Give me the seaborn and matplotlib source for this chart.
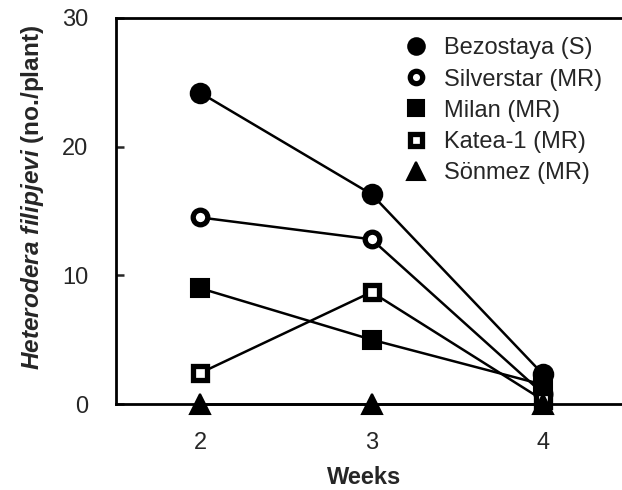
import matplotlib
matplotlib.use("Agg")
import matplotlib.pyplot as plt
import seaborn as sns
import pandas as pd

weeks = [2, 3, 4]
cultivars = ["Bezostaya (S)", "Silverstar (MR)", "Milan (MR)", "Katea-1 (MR)", "Sönmez (MR)"]
bezostaya = [24.2, 16.3, 2.3]
silverstar = [14.5, 12.8, 0.8]
milan = [9.0, 5.0, 1.5]
katea = [2.4, 8.7, 0.3]
sonmez = [0.0, 0.0, 0.0]
yticks = [0, 10, 20, 30]

series = [bezostaya, silverstar, milan, katea, sonmez]
markers = ["o", "o", "s", "s", "^"]
faces = ["black", "white", "black", "white", "black"]
msizes = [14, 10.5, 13.5, 10.5, 15]
mews = [1.5, 3.8, 1.5, 3.8, 1.5]

sns.set_style("white")
plt.rcParams["font.family"] = ["Liberation Sans", "DejaVu Sans"]
plt.rcParams["mathtext.fontset"] = "custom"
plt.rcParams["mathtext.it"] = "Liberation Sans:italic:bold"

fig = plt.figure(figsize=(6.22, 4.9), dpi=100)
ax = fig.add_axes([116/622, 1-404/490, 1-116/622, (404-18)/490])

rows = []
for name, vals in zip(cultivars, series):
    for w, v in zip(weeks, vals):
        rows.append({"Weeks": w, "val": v, "cultivar": name})
df = pd.DataFrame(rows)

for name, m, fc, ms, mew in zip(cultivars, markers, faces, msizes, mews):
    sub = df[df["cultivar"] == name]
    sns.lineplot(data=sub, x="Weeks", y="val", ax=ax, color="black", lw=1.8,
                 marker=m, markersize=ms, markerfacecolor=fc,
                 markeredgecolor="black", markeredgewidth=mew,
                 label=name, clip_on=False, zorder=3)

ax.set_xlim(1.51, 4.46)
ax.set_ylim(0, 30)
ax.set_xticks(weeks)
ax.set_yticks(yticks)
ax.tick_params(axis="x", length=0, labelsize=17, pad=20)
ax.tick_params(axis="y", direction="in", length=6, width=1.8, labelsize=17, pad=20, left=True)
for s in ["left", "bottom", "top"]:
    ax.spines[s].set_linewidth(2)
    ax.spines[s].set_color("black")
ax.spines["right"].set_visible(False)

ax.set_xlabel("Weeks", fontsize=17, fontweight="bold")
ax.xaxis.set_label_coords(0.49, -0.16)
ax.set_ylabel(r"$\mathit{Heterodera\ filipjevi}$ (no./plant)", fontsize=17.6, fontweight="bold")
ax.yaxis.set_label_coords(-0.138, 0.536)

leg = ax.legend(loc="upper left", bbox_to_anchor=(0.569, 0.95), frameon=False,
                fontsize=17, handlelength=1.0, handletextpad=0.7, labelspacing=0.39,
                markerscale=0.85, borderaxespad=0, borderpad=0)
for h in leg.legend_handles:
    h.set_linestyle("None")

fig.savefig("out.png", dpi=100)
